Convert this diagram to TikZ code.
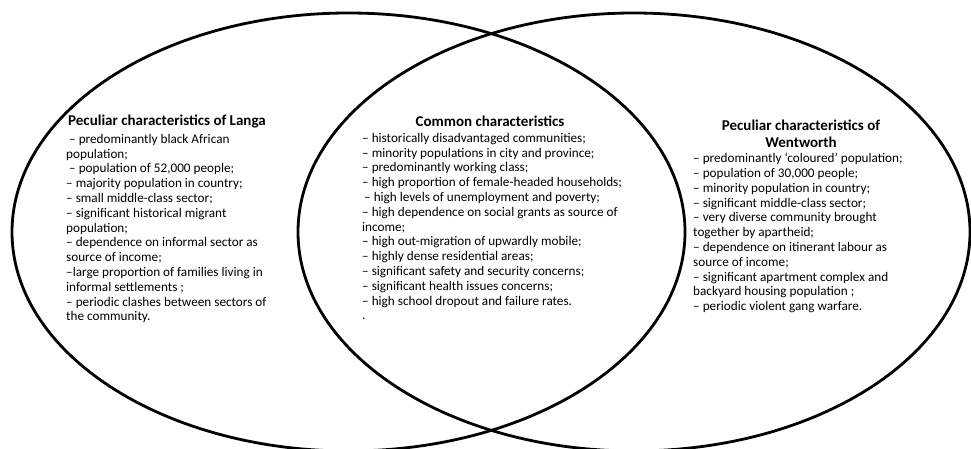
\documentclass[tikz,border=0pt]{standalone}
\usepackage{fontspec}
\setmainfont{Carlito}

\begin{document}
\begin{tikzpicture}[x=1pt,y=-1pt,
    ring/.style={line width=2.8pt},
    headtext/.style={font=\fontsize{15}{17}\selectfont\bfseries, inner sep=0pt, align=center},
    listtext/.style={font=\fontsize{13.2}{14.8}\selectfont, inner sep=0pt, align=left, anchor=north west}]
            \useasboundingbox (0,0) rectangle (971,449);
            \clip (0,0) rectangle (971,449);
            \draw[ring] (348.5,232) ellipse [x radius=336.5, y radius=219];
            \draw[ring] (634,232) ellipse [x radius=336, y radius=219];
            % Langa
            \node[headtext, anchor=west] (langahead) at (68,121) {Peculiar characteristics of Langa};
            \node[listtext] (langa) at (66,134) {\hspace*{3pt}– predominantly black African\\
                population;\\
                \hspace*{3pt}– population of 52,000 people;\\
                – majority population in country;\\
                – small middle-class sector;\\
                – significant historical migrant\\
                population;\\
                – dependence on informal sector as\\
                source of income;\\
                –large proportion of families living in\\
                informal settlements ;\\
                – periodic clashes between sectors of\\
                the community.};
            % common
            \node[headtext] (commonhead) at (490,121) {Common characteristics};
            \node[listtext] (common) at (362,133) {– historically disadvantaged communities;\\
                – minority populations in city and province;\\
                – predominantly working class;\\
                – high proportion of female-headed households;\\
                \hspace*{2pt}– high levels of unemployment and poverty;\\
                – high dependence on social grants as source of\\
                income;\\
                – high out-migration of upwardly mobile;\\
                – highly dense residential areas;\\
                – significant safety and security concerns;\\
                – significant health issues concerns;\\
                – high school dropout and failure rates.\\
                .};
            % Wentworth
            \node[headtext] (wenthead) at (801,134) {Peculiar characteristics of\\Wentworth};
            \node[listtext] (went) at (693,153) {– predominantly ‘coloured’ population;\\
                – population of 30,000 people;\\
                – minority population in country;\\
                – significant middle-class sector;\\
                – very diverse community brought\\
                together by apartheid;\\
                – dependence on itinerant labour as\\
                source of income;\\
                – significant apartment complex and\\
                backyard housing population ;\\
                – periodic violent gang warfare.};
        \end{tikzpicture}
\end{document}
